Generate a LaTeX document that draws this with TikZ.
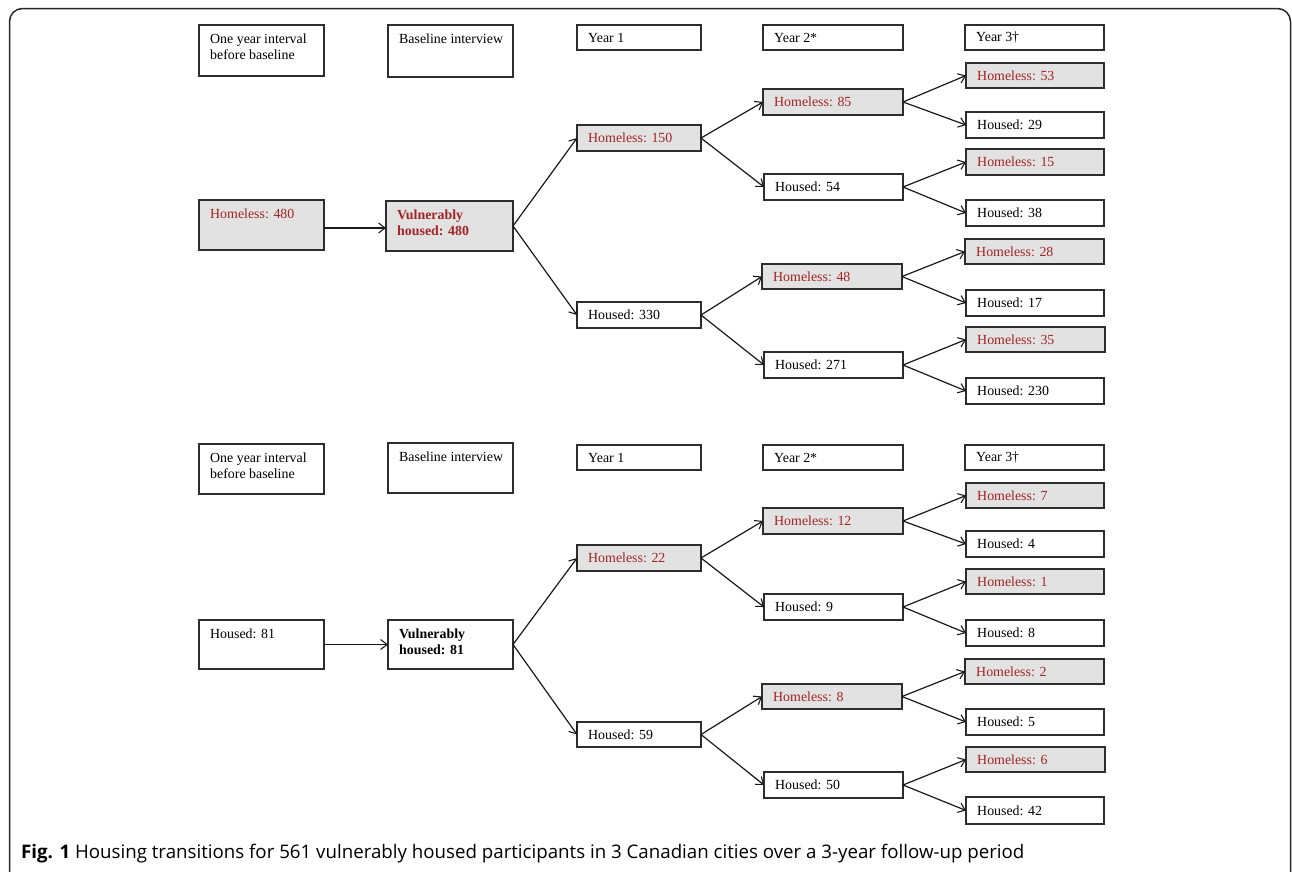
\documentclass[tikz,border=0pt]{standalone}
\usepackage{fontspec}
\setmainfont{Liberation Serif}
\newfontfamily\capfont{Open Sans}
\usetikzlibrary{arrows.meta}
\definecolor{hred}{RGB}{163,36,36}
\definecolor{hgray}{RGB}{226,226,226}
\definecolor{bline}{RGB}{45,45,45}
\tikzset{
  wb/.style={draw=bline, line width=1.2pt, fill=white, inner sep=0, outer sep=0},
  gb/.style={wb, fill=hgray},
  lbl/.style={inner sep=0, font=\fontsize{13.9}{16}\selectfont, text=black, align=left},
  rlbl/.style={lbl, text=hred},
  arr/.style={-{Straight Barb[length=6.5pt,width=10pt,line width=1.1pt]}, line width=1.2pt, draw=black!90},
}
% one-line box: text vertically centred
\newcommand\mybox[8]{%
  \node[#2, anchor=north west, minimum width={(#6-#4)*1pt}, minimum height={(#7-#5)*1pt}] (#1) at (#4,#5) {};
  \node[#3, anchor=west] (#1t) at ([xshift=11pt]#1.west) {#8};
}
% tall box: text at the top
\newcommand\mytbox[8]{%
  \node[#2, anchor=north west, minimum width={(#6-#4)*1pt}, minimum height={(#7-#5)*1pt}] (#1) at (#4,#5) {};
  \node[#3, anchor=north west] (#1t) at ([xshift=11pt,yshift=-9pt]#1.north west) {#8};
}
\begin{document}
\begin{tikzpicture}[x=1pt,y=-1pt]
\useasboundingbox (0,0) rectangle (1292,871);
\begin{scope}
\clip (0,0) rectangle (1292,871);
\draw[line width=1.5pt, rounded corners=13pt, draw=black!85] (9.5,8.5) rectangle (1290.5,885);
\end{scope}

% ---------------- top tree ----------------
\mytbox{ta}{wb}{lbl}{199}{25}{324}{76}{One year interval\\before baseline}
\mytbox{tb}{wb}{lbl}{388}{25}{513}{77}{Baseline interview}
\mybox{ty1}{wb}{lbl}{577}{25}{701}{50}{Year 1}
\mybox{ty2}{wb}{lbl}{763}{25}{903}{50}{Year 2*}
\mybox{ty3}{wb}{lbl}{965}{25}{1104}{50}{Year 3†}

\mytbox{th480}{gb}{rlbl}{199}{200}{324}{250}{Homeless: 480}
\mytbox{tv480}{gb}{rlbl}{386}{201}{513}{251}{\bfseries Vulnerably\\\bfseries housed: 480}
\mybox{th150}{gb}{rlbl}{577}{125}{701}{151}{Homeless: 150}
\mybox{td330}{wb}{lbl}{577}{302}{701}{328}{Housed: 330}
\mybox{th85}{gb}{rlbl}{763}{89}{903}{115}{Homeless: 85}
\mybox{td54}{wb}{lbl}{764}{174}{903}{200}{Housed: 54}
\mybox{th48}{gb}{rlbl}{762}{264}{902}{289}{Homeless: 48}
\mybox{td271}{wb}{lbl}{764}{352}{903}{378}{Housed: 271}
\mybox{th53}{gb}{rlbl}{966}{63}{1104}{88}{Homeless: 53}
\mybox{td29}{wb}{lbl}{966}{112}{1104}{138}{Housed: 29}
\mybox{th15}{gb}{rlbl}{966}{149}{1104}{175}{Homeless: 15}
\mybox{td38}{wb}{lbl}{966}{200}{1104}{226}{Housed: 38}
\mybox{th28}{gb}{rlbl}{965}{239}{1104}{264}{Homeless: 28}
\mybox{td17}{wb}{lbl}{966}{290}{1104}{316}{Housed: 17}
\mybox{th35}{gb}{rlbl}{966}{327}{1105}{352}{Homeless: 35}
\mybox{td230}{wb}{lbl}{966}{378}{1104}{404}{Housed: 230}

\draw[arr] ([yshift=-3pt]th480.east) -- ([yshift=-3pt]th480.east -| tv480.west);
\draw[arr] (tv480.east) -- (th150.west);
\draw[arr] (tv480.east) -- (td330.west);
\draw[arr] (th150.east) -- (th85.west);
\draw[arr] (th150.east) -- (td54.west);
\draw[arr] (td330.east) -- (th48.west);
\draw[arr] (td330.east) -- (td271.west);
\draw[arr] (th85.east) -- (th53.west);
\draw[arr] (th85.east) -- (td29.west);
\draw[arr] (td54.east) -- (th15.west);
\draw[arr] (td54.east) -- (td38.west);
\draw[arr] (th48.east) -- (th28.west);
\draw[arr] (th48.east) -- (td17.west);
\draw[arr] (td271.east) -- (th35.west);
\draw[arr] (td271.east) -- (td230.west);

% ---------------- bottom tree ----------------
\begin{scope}[shift={(0,420)}]
\mytbox{ba}{wb}{lbl}{199}{24}{324}{74}{One year interval\\before baseline}
\mytbox{bb}{wb}{lbl}{388}{23}{513}{73}{Baseline interview}
\mybox{by1}{wb}{lbl}{577}{25}{701}{50}{Year 1}
\mybox{by2}{wb}{lbl}{763}{25}{903}{50}{Year 2*}
\mybox{by3}{wb}{lbl}{965}{25}{1104}{50}{Year 3†}

\mytbox{bd81}{wb}{lbl}{199}{200}{324}{249}{Housed: 81}
\mytbox{bv81}{wb}{lbl}{388}{200}{513}{249}{\bfseries Vulnerably\\\bfseries housed: 81}
\mybox{bh22}{gb}{rlbl}{577}{125}{701}{151}{Homeless: 22}
\mybox{bd59}{wb}{lbl}{577}{302}{701}{327}{Housed: 59}
\mybox{bh12}{gb}{rlbl}{763}{88}{903}{114}{Homeless: 12}
\mybox{bd9}{wb}{lbl}{764}{174}{903}{200}{Housed: 9}
\mybox{bh8}{gb}{rlbl}{762}{264}{902}{289}{Homeless: 8}
\mybox{bd50}{wb}{lbl}{764}{352}{903}{378}{Housed: 50}
\mybox{bh7}{gb}{rlbl}{966}{63}{1104}{88}{Homeless: 7}
\mybox{bd4}{wb}{lbl}{966}{111}{1104}{137}{Housed: 4}
\mybox{bh1}{gb}{rlbl}{966}{149}{1104}{174}{Homeless: 1}
\mybox{bd8}{wb}{lbl}{966}{200}{1104}{226}{Housed: 8}
\mybox{bh2}{gb}{rlbl}{965}{239}{1104}{264}{Homeless: 2}
\mybox{bd5}{wb}{lbl}{966}{289}{1104}{315}{Housed: 5}
\mybox{bh6}{gb}{rlbl}{966}{327}{1105}{352}{Homeless: 6}
\mybox{bd42}{wb}{lbl}{966}{377}{1104}{404}{Housed: 42}

\draw[arr] (bd81.east) -- (bv81.west);
\draw[arr] (bv81.east) -- (bh22.west);
\draw[arr] (bv81.east) -- (bd59.west);
\draw[arr] (bh22.east) -- (bh12.west);
\draw[arr] (bh22.east) -- (bd9.west);
\draw[arr] (bd59.east) -- (bh8.west);
\draw[arr] (bd59.east) -- (bd50.west);
\draw[arr] (bh12.east) -- (bh7.west);
\draw[arr] (bh12.east) -- (bd4.west);
\draw[arr] (bd9.east) -- (bh1.west);
\draw[arr] (bd9.east) -- (bd8.west);
\draw[arr] (bh8.east) -- (bh2.west);
\draw[arr] (bh8.east) -- (bd5.west);
\draw[arr] (bd50.east) -- (bh6.west);
\draw[arr] (bd50.east) -- (bd42.west);
\end{scope}

\node[anchor=base west, inner sep=0, font=\capfont\fontsize{18.7}{22}\selectfont] (cap) at (21,858.5)
  {\textbf{Fig. 1} Housing transitions for 561 vulnerably housed participants in 3 Canadian cities over a 3-year follow-up period};
\end{tikzpicture}
\end{document}
